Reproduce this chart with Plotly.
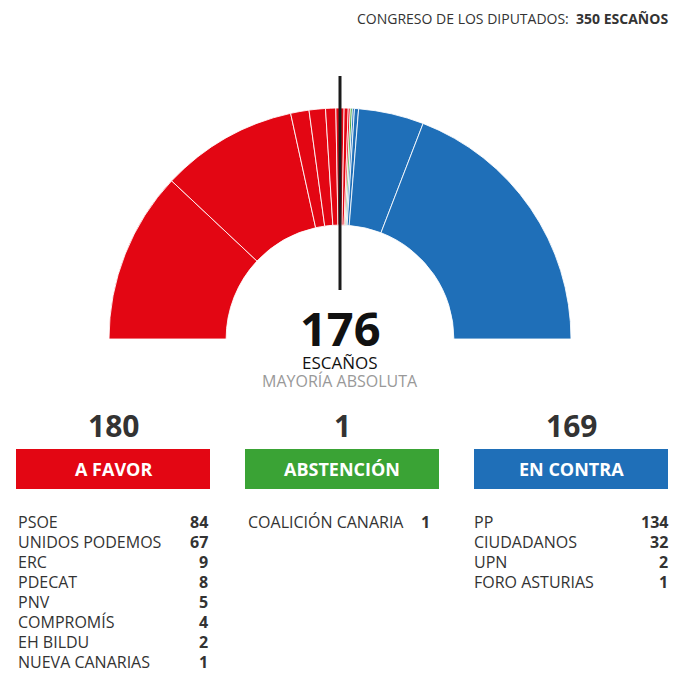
import math
import plotly.graph_objects as go

# ---------------- data ----------------
favor_parties = ["PSOE", "UNIDOS PODEMOS", "ERC", "PDECAT", "PNV", "COMPROMÍS", "EH BILDU", "NUEVA CANARIAS"]
favor_seats = [84, 67, 9, 8, 5, 4, 2, 1]
abst_parties = ["COALICIÓN CANARIA"]
abst_seats = [1]
contra_parties = ["PP", "CIUDADANOS", "UPN", "FORO ASTURIAS"]
contra_seats = [134, 32, 2, 1]
group_labels = ["A FAVOR", "ABSTENCIÓN", "EN CONTRA"]
total_seats = 350
majority = 176
chamber = "CONGRESO DE LOS DIPUTADOS:"

# ---------------- style ----------------
RED = "#e30613"
GREEN = "#3aa335"
BLUE = "#1f6fb8"
TXT = "#333333"
FONT = "Open Sans"
W = H = 680

def px(x):
    return x / W

def py(y):
    return 1 - y / H

# hemicycle geometry (pixels)
CX, CY, R = 340, 339, 231

arc_labels = favor_parties + abst_parties + contra_parties[::-1] + ["_hidden"]
arc_values = favor_seats + abst_seats + contra_seats[::-1]
arc_values = arc_values + [sum(arc_values)]
arc_colors = ([RED] * len(favor_seats) + [GREEN] * len(abst_seats)
              + [BLUE] * len(contra_seats) + ["rgba(0,0,0,0)"])
n_real = len(arc_values) - 1

fig = go.Figure()
fig.add_trace(go.Pie(
    labels=arc_labels,
    values=arc_values,
    sort=False,
    direction="clockwise",
    rotation=-90,
    hole=0.493,
    textinfo="none",
    hoverinfo="skip",
    showlegend=False,
    marker=dict(
        colors=arc_colors,
        line=dict(color=["rgba(255,255,255,0.85)"] * n_real + ["rgba(0,0,0,0)"],
                  width=[1] * n_real + [0]),
    ),
    domain=dict(x=[px(CX - R), px(CX + R)], y=[py(CY + R), py(CY - R)]),
))

# majority marker line
ang = math.pi * (1 - (majority - 1) / total_seats)
r0, r1 = 49, 263
fig.add_shape(type="line", xref="paper", yref="paper",
              x0=px(CX + r0 * math.cos(ang)), y0=py(CY - r0 * math.sin(ang)),
              x1=px(CX + r1 * math.cos(ang)), y1=py(CY - r1 * math.sin(ang)),
              line=dict(color="#1a1a1a", width=3))

ann = []

def text(x, y, s, size, color=TXT, xanchor="center", bold=False):
    ann.append(dict(x=px(x), y=py(y), xref="paper", yref="paper",
                    text=(f"<b>{s}</b>" if bold else s), showarrow=False,
                    xanchor=xanchor, yanchor="middle", borderpad=0,
                    font=dict(family=FONT, size=size, color=color)))

# header
text(669, 18, f"{chamber}\u00a0\u00a0<b>{total_seats} ESCAÑOS</b>", 14, xanchor="right")

# center
text(340, 328, str(majority), 47, color="#111111", bold=True)
text(340, 362, "ESCAÑOS", 17, color="#111111")
text(340, 381, "MAYORÍA ABSOLUTA", 16, color="#999999")

# groups
groups = [(favor_parties, favor_seats, RED, 16, 210, 17, 209),
          (abst_parties, abst_seats, GREEN, 245, 439, 247, 431),
          (contra_parties, contra_seats, BLUE, 474, 668, 473, 669)]
for (names, seats, col, bx0, bx1, nx, vx), label in zip(groups, group_labels):
    cxg = (bx0 + bx1) / 2
    text(cxg, 425, str(sum(seats)), 30, bold=True)
    fig.add_shape(type="rect", xref="paper", yref="paper",
                  x0=px(bx0), x1=px(bx1), y0=py(489), y1=py(449),
                  fillcolor=col, line=dict(width=0), layer="below")
    text(cxg, 469, label, 18, color="white", bold=True)
    for i, (n, s) in enumerate(zip(names, seats)):
        yy = 522 + 20 * i
        text(nx, yy, n, 16, xanchor="left")
        text(vx, yy, str(s), 16, xanchor="right", bold=True)

fig.update_layout(
    width=W, height=H,
    margin=dict(l=0, r=0, t=0, b=0),
    paper_bgcolor="white", plot_bgcolor="white",
    annotations=ann,
    showlegend=False,
)

fig.write_html("out.html", config={"displayModeBar": False})
